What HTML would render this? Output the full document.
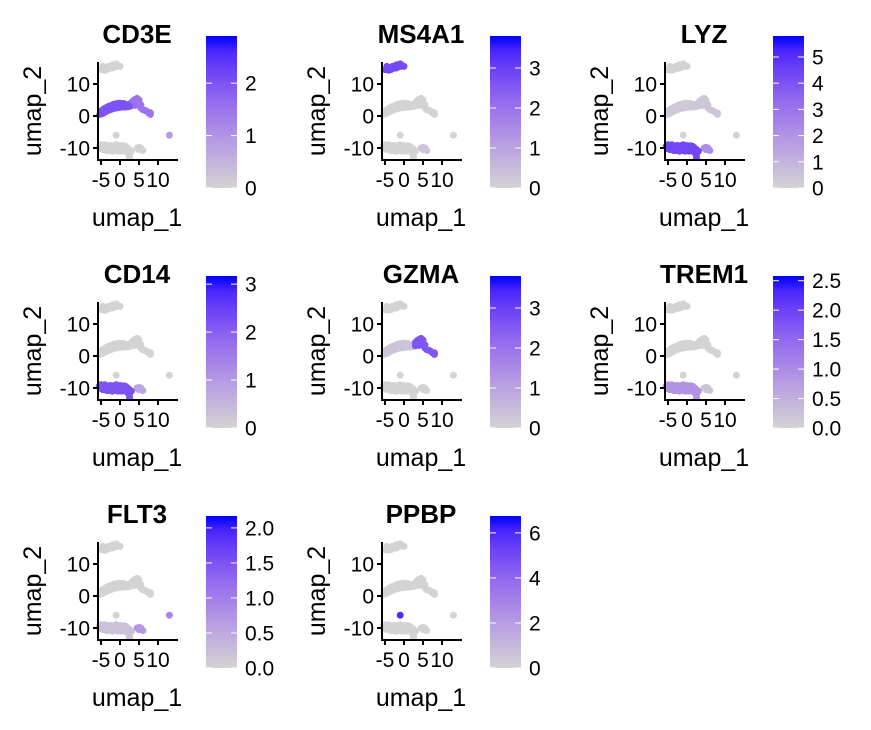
<!DOCTYPE html>
<html><head><meta charset="utf-8">
<style>
html,body{margin:0;padding:0;background:#fff;}
svg{display:block;font-family:"Liberation Sans",Arial,sans-serif;}
</style></head>
<body>
<svg id="chart" width="871" height="730" viewBox="0 0 871 730">
<defs id="defs"></defs>
</svg>
<script>
const genes = ["CD3E","MS4A1","LYZ","CD14","GZMA","TREM1","FLT3","PPBP"];
const geneMax = [2.9,3.8,5.8,3.17,3.8,2.58,2.17,6.75];
const cbTicks = [[0,1,2],[0,1,2,3],[0,1,2,3,4,5],[0,1,2,3],[0,1,2,3],[0.0,0.5,1.0,1.5,2.0,2.5],[0.0,0.5,1.0,1.5,2.0],[0,2,4,6]];
const cbDecimals = [0,0,0,0,0,1,1,0];
const clusters = ["B","T","NK","Mono","DC","Platelet","Other"];
const exprCD3E  = [0,2.0,1.5,0,0,0,0.9];
const exprMS4A1 = [2.8,0,0,0,0.3,0,0];
const exprLYZ   = [0,0.3,0.4,4.4,2.2,0,0];
const exprCD14  = [0,0,0,2.2,0.8,0,0];
const exprGZMA  = [0,0.3,2.6,0,0,0,0];
const exprTREM1 = [0,0,0,0.9,0.2,0,0];
const exprFLT3  = [0,0,0,0.2,0.7,0,0.9];
const exprPPBP  = [0,0,0,0,0,6.0,0];
const exprAll = [exprCD3E,exprMS4A1,exprLYZ,exprCD14,exprGZMA,exprTREM1,exprFLT3,exprPPBP];
const cellsB = [[-5,14.5],[-4.5,14.5],[-4,14.3],[-3.5,14.5],[-3,14.8],[-2.5,15],[-2,15],[-1.5,15.3],[-1,15.5],[-0.5,15.8],[0,15.5],[-4.5,15.5],[-3,15.5],[-2,16],[-1,16.3]];
const cellsT = [[-5.3,0.5],[-5,1.5],[-4.5,0.8],[-4.5,2],[-4,1.2],[-4,2.4],[-3.5,1.5],[-3.5,2.7],[-3,1.8],[-3,3],[-2.5,2],[-2.5,3.2],[-2,2.2],[-2,3.5],[-1.5,2.4],[-1.5,3.7],[-1,2.5],[-1,3.8],[-0.5,2.6],[-0.5,4],[0,2.7],[0,4],[0.5,2.8],[0.5,3.8],[1,2.8],[1,3.9],[1.5,2.8],[1.5,3.6],[2,2.9],[2,3.5],[2.5,3]];
const cellsNK = [[3,3.2],[3,4.2],[3.5,3.5],[3.5,4.8],[4,3.3],[4,5.2],[4.5,3.8],[4.5,5.5],[5,4],[5,5],[5.5,2.5],[5.5,3.5],[6,2],[6.5,1.8],[7,1.5],[7.5,1],[8,1],[8,0.5]];
const cellsMono = [[-5.5,-9.5],[-5,-9],[-5,-10.2],[-4.5,-9.2],[-4.5,-10.5],[-4,-9],[-4,-10.5],[-3.5,-9.5],[-3.5,-10.8],[-3,-9.3],[-3,-10.8],[-2.5,-9.2],[-2.5,-10.7],[-2,-9.5],[-2,-11],[-1.5,-9.2],[-1.5,-10.5],[-1,-9],[-1,-10.8],[-0.5,-9.5],[-0.5,-11],[0,-9.2],[0,-10.5],[0.5,-9.5],[0.5,-11],[1,-9.3],[1,-10.8],[1.5,-9.5],[1.5,-11],[2,-10],[2,-11.5],[2.5,-10.5],[2.5,-12],[2.5,-13],[3,-11]];
const cellsDC = [[4.5,-10],[5,-10.5],[5.5,-10],[6,-10.8],[5,-9.8]];
const cellsPlatelet = [[-1,-6]];
const cellsOther = [[13,-6]];
const cellsAll = [cellsB,cellsT,cellsNK,cellsMono,cellsDC,cellsPlatelet,cellsOther];
const xTicks = [-5,0,5,10];
const xTickLabels = ["-5","0","5","10"];
const yTicks = [10,0,-10];

const NS = "http://www.w3.org/2000/svg";
const svg = document.getElementById("chart");
function mk(tag, attrs, parent){ const e=document.createElementNS(NS,tag); for(const k in attrs) e.setAttribute(k,attrs[k]); (parent||svg).appendChild(e); return e; }
// Lab interpolation (like R's colorRampPalette in ggplot gradient)
function toLin(c){c/=255;return c<=0.04045?c/12.92:Math.pow((c+0.055)/1.055,2.4);}
function fromLin(c){c=c<=0.0031308?12.92*c:1.055*Math.pow(c,1/2.4)-0.055;return Math.round(Math.max(0,Math.min(1,c))*255);}
function rgb2lab(r,g,b){r=toLin(r);g=toLin(g);b=toLin(b);
 let X=(0.4124*r+0.3576*g+0.1805*b)/0.95047,Y=0.2126*r+0.7152*g+0.0722*b,Z=(0.0193*r+0.1192*g+0.9505*b)/1.08883;
 const f=t=>t>0.008856?Math.cbrt(t):7.787*t+16/116;X=f(X);Y=f(Y);Z=f(Z);return [116*Y-16,500*(X-Y),200*(Y-Z)];}
function lab2rgb(L,a,bb){let Y=(L+16)/116,X=a/500+Y,Z=Y-bb/200;
 const fi=t=>t*t*t>0.008856?t*t*t:(t-16/116)/7.787;X=fi(X)*0.95047;Y=fi(Y);Z=fi(Z)*1.08883;
 const r=3.2406*X-1.5372*Y-0.4986*Z,g=-0.9689*X+1.8758*Y+0.0415*Z,b=0.0557*X-0.2040*Y+1.0570*Z;return [fromLin(r),fromLin(g),fromLin(b)];}
const labLo=rgb2lab(211,211,211), labHi=rgb2lab(0,0,255);
function lerpColor(t){t=Math.max(0,Math.min(1,t));const L=labLo.map((v,i)=>v+(labHi[i]-v)*t);const c=lab2rgb(L[0],L[1],L[2]);return `rgb(${c[0]},${c[1]},${c[2]})`;}
// gradient for colorbar
const defs=document.getElementById("defs");
const lg=mk("linearGradient",{id:"cbgrad",x1:"0",y1:"1",x2:"0",y2:"0"},defs);
for(let i=0;i<=10;i++) mk("stop",{offset:i/10,"stop-color":lerpColor(i/10)},lg);

const colOff=[0,284,567], rowOff=[0,240,480];
genes.forEach((gene,gi)=>{
  const ox=colOff[gi%3], oy=rowOff[Math.floor(gi/3)];
  const g=mk("g",{transform:`translate(${ox},${oy})`});
  
  
  const sx=v=>120+3.8*v, sy=v=>116-3.2*v;
  const t=mk("text",{x:137,y:43,"text-anchor":"middle","font-size":"26","font-weight":"bold",fill:"#000"},g);
  t.textContent=gene;
  
  
  const ex=exprAll[gi];
  const pts=[];
  cellsAll.forEach((cl,ci)=>cl.forEach(p=>pts.push([p[0],p[1],ex[ci]])));
  pts.sort((a,b)=>a[2]-b[2]);
  const pg=mk("g",{},g);
  
  
  pts.forEach(p=>{
    const c=mk("circle",{cx:sx(p[0]),cy:sy(p[1]),r:3.5,fill:lerpColor(p[2]/geneMax[gi])},pg);
    
    
  });
  const ax=mk("path",{d:"M98,62 V160 H178",fill:"none",stroke:"#000","stroke-width":"2"},g);
  
  
  xTicks.forEach((v,i)=>{
    mk("line",{x1:sx(v),x2:sx(v),y1:160,y2:165,stroke:"#000","stroke-width":"2"},g);
    const tl=mk("text",{x:sx(v),y:187,"text-anchor":"middle","font-size":"21",fill:"#000"},g);
    tl.textContent=xTickLabels[i];
    
    
  });
  yTicks.forEach(v=>{
    mk("line",{x1:93,x2:98,y1:sy(v),y2:sy(v),stroke:"#000","stroke-width":"2"},g);
    const tl=mk("text",{x:90,y:sy(v)+7.5,"text-anchor":"end","font-size":"21",fill:"#000"},g);
    tl.textContent=String(v);
    
    
  });
  const xl=mk("text",{x:137,y:226,"text-anchor":"middle","font-size":"25",fill:"#000"},g);
  xl.textContent="umap_1";
  
  
  const yl=mk("text",{x:0,y:0,"text-anchor":"middle","font-size":"25",fill:"#000",transform:"translate(41,111) rotate(-90)"},g);
  yl.textContent="umap_2";
  
  
  const cb=mk("rect",{x:206,y:36,width:31,height:152,fill:"url(#cbgrad)"},g);
  
  
  cbTicks[gi].forEach(v=>{
    const y=188-v/geneMax[gi]*152;
    mk("line",{x1:206,x2:212,y1:y,y2:y,stroke:"#fff","stroke-width":"1"},g);
    mk("line",{x1:231,x2:237,y1:y,y2:y,stroke:"#fff","stroke-width":"1"},g);
    const l=mk("text",{x:245,y:y+7.5,"font-size":"21",fill:"#000"},g);
    l.textContent=v.toFixed(cbDecimals[gi]);
    
    
  });
});
</script>
</body></html>
